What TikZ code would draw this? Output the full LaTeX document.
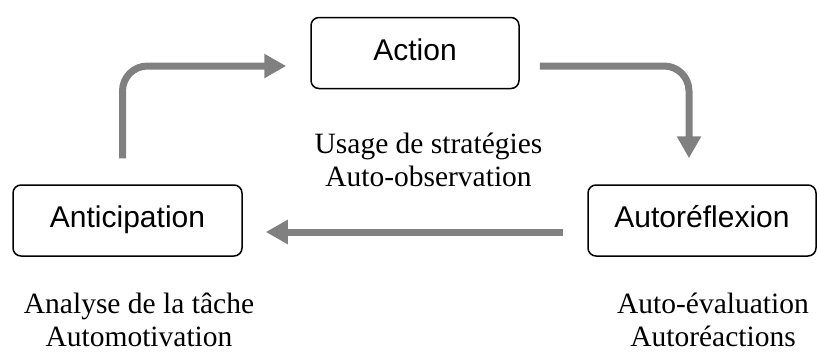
\documentclass[tikz,border=0pt]{standalone}
\usepackage{fontspec}
\setmainfont{Liberation Serif}
\newfontfamily\boxfont{Liberation Sans}
\usetikzlibrary{arrows.meta}
\definecolor{flowgray}{RGB}{128,128,128}

\begin{document}
\begin{tikzpicture}[x=1pt,y=-1pt,
  phase/.style={draw,rounded corners=8pt,line width=1.5pt,minimum height=71pt,
    text height=21pt,text depth=7pt,font=\boxfont\fontsize{30}{36}\selectfont},
  flow/.style={flowgray,line width=7pt,-{Triangle[width=23pt,length=22pt]}},
  notes/.style={align=center,inner sep=0pt,font=\fontsize{29.5}{33}\selectfont}]
  \useasboundingbox (0,0) rectangle (817,356);
  \node[phase,minimum width=208pt] (action) at (415,53) {Action};
  \node[phase,minimum width=229pt] (antic) at (127.5,220.5) {Anticipation};
  \node[phase,minimum width=228pt] (autoref) at (702,220.5) {Autoréflexion};
  \node[notes] (mid) at (428.5,159.5) {Usage de stratégies\\Auto-observation};
  \node[notes] (left) at (139,320) {Analyse de la tâche\\Automotivation};
  \node[notes] (right) at (713,320) {Auto-évaluation\\Autoréactions};
  \draw[flow,rounded corners=25pt,shorten <=26pt,shorten >=24pt]
    ([xshift=-5pt]antic.north) |- ([yshift=-13pt]action.west);
  \draw[flow,rounded corners=25pt,shorten <=20pt,shorten >=26pt]
    ([yshift=-13pt]action.east) -| ([xshift=-13pt]autoref.north);
  \draw[flow,shorten <=24pt,shorten >=23pt]
    ([yshift=-11.5pt]autoref.west) -- ([yshift=-11.5pt]antic.east);
\end{tikzpicture}
\end{document}
